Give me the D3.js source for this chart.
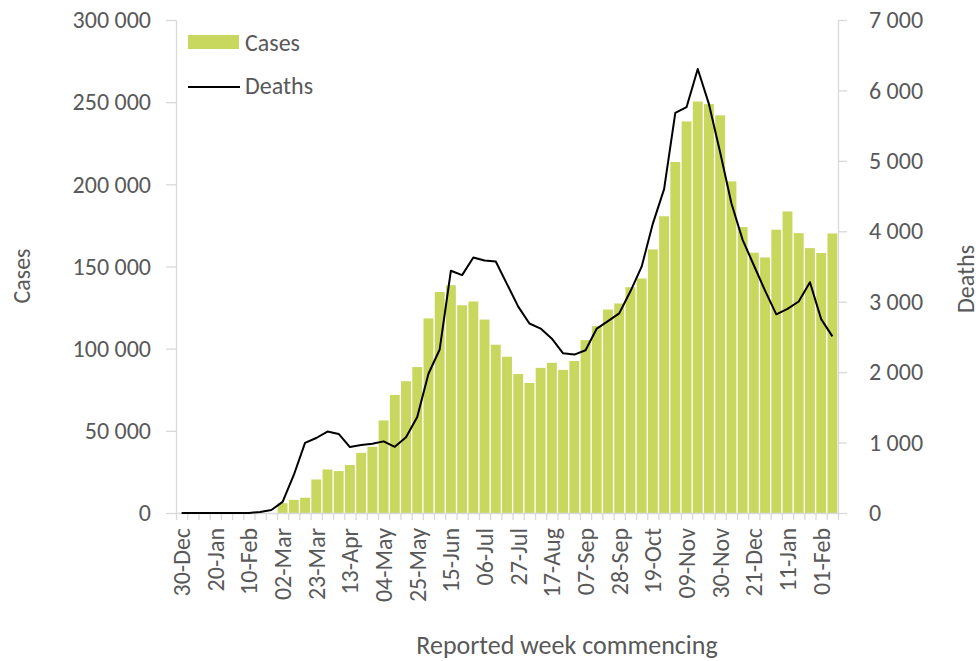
<!DOCTYPE html>
<meta charset="utf-8">
<title>Weekly cases and deaths</title>
<style>
    body {
        margin: 0;
        background: #fff;
    }

    text {
        font-family: Carlito, Calibri, Lato, sans-serif;
        fill: #595959;
    }

    .axis path,
    .axis line {
        stroke: #d9d9d9;
        stroke-width: 1.3px;
    }

    .deaths {
        fill: none;
        stroke: #000;
        stroke-width: 2px;
        stroke-linejoin: round;
    }
</style>

<body>
    <div id="chart"></div>
    <script src="https://cdnjs.cloudflare.com/ajax/libs/d3/7.8.5/d3.min.js"></script>
    <script>

        // week commencing labels
        var weeks = ["30-Dec", "06-Jan", "13-Jan", "20-Jan", "27-Jan", "03-Feb", "10-Feb", "17-Feb", "24-Feb",
            "02-Mar", "09-Mar", "16-Mar", "23-Mar", "30-Mar", "06-Apr", "13-Apr", "20-Apr", "27-Apr",
            "04-May", "11-May", "18-May", "25-May", "01-Jun", "08-Jun", "15-Jun", "22-Jun", "29-Jun",
            "06-Jul", "13-Jul", "20-Jul", "27-Jul", "03-Aug", "10-Aug", "17-Aug", "24-Aug", "31-Aug",
            "07-Sep", "14-Sep", "21-Sep", "28-Sep", "05-Oct", "12-Oct", "19-Oct", "26-Oct", "02-Nov",
            "09-Nov", "16-Nov", "23-Nov", "30-Nov", "07-Dec", "14-Dec", "21-Dec", "28-Dec", "04-Jan",
            "11-Jan", "18-Jan", "25-Jan", "01-Feb", "08-Feb"];

        // the labels shown on the x axis
        var shownWeeks = ["30-Dec", "20-Jan", "10-Feb", "02-Mar", "23-Mar", "13-Apr", "04-May", "25-May",
            "15-Jun", "06-Jul", "27-Jul", "17-Aug", "07-Sep", "28-Sep", "19-Oct", "09-Nov", "30-Nov",
            "21-Dec", "11-Jan", "01-Feb"];

        var cases = [0, 0, 0, 0, 0, 0, 0, 0, 0,
            6000, 8000, 9300, 20400, 26500, 25500, 29200, 36600, 40300,
            56300, 71800, 80200, 88800, 118400, 134500, 138600, 126400, 128700,
            117700, 102400, 95100, 84600, 79100, 88300, 91400, 87100, 92500,
            105200, 113700, 123800, 127500, 137400, 142700, 160400, 180600, 213600,
            238300, 250400, 248800, 242000, 201800, 174000, 158400, 155500, 172400,
            183500, 170300, 161200, 158200, 170100];

        var deaths = [0, 0, 0, 0, 0, 0, 0, 15, 43,
            158, 540, 995, 1065, 1156, 1123, 936, 964, 984,
            1017, 940, 1075, 1363, 1977, 2322, 3440, 3378, 3628,
            3585, 3570, 3250, 2931, 2691, 2619, 2475, 2268, 2249,
            2311, 2619, 2725, 2835, 3148, 3498, 4109, 4599, 5680,
            5762, 6305, 5805, 5118, 4397, 3878, 3518, 3157, 2821,
            2898, 3003, 3277, 2753, 2508];

        var casesTicks = [0, 50000, 100000, 150000, 200000, 250000, 300000];
        var deathsTicks = [0, 1000, 2000, 3000, 4000, 5000, 6000, 7000];

        var width = 980, height = 661;
        var plot = { left: 176, right: 838, top: 20, bottom: 513 };

        var svg = d3.select("#chart").append("svg")
            .attr("width", width)
            .attr("height", height);

        // scales
        var x = d3.scaleBand().domain(weeks).range([plot.left, plot.right])
            .paddingInner(0.12).paddingOuter(0.06);
        var xSlots = d3.scaleLinear().domain([0, weeks.length]).range([plot.left, plot.right]);
        var yCases = d3.scaleLinear().domain([0, 300000]).range([plot.bottom, plot.top]);
        var yDeaths = d3.scaleLinear().domain([0, 7000]).range([plot.bottom, plot.top]);

        var spaced = function (d) { return d3.format(",")(d).replace(/,/g, " "); };

        // bars
        svg.append("g").selectAll("rect")
            .data(cases)
            .enter().append("rect")
            .attr("x", function (d, i) { return x(weeks[i]); })
            .attr("width", x.bandwidth())
            .attr("y", function (d) { return yCases(d); })
            .attr("height", function (d) { return plot.bottom - yCases(d); })
            .attr("fill", "#c8d75e");

        // left axis
        var gl = svg.append("g")
            .attr("class", "axis")
            .attr("transform", "translate(" + plot.left + ",0)")
            .call(d3.axisLeft(yCases).tickValues(casesTicks).tickFormat(spaced)
                .tickSize(10).tickSizeOuter(0).tickPadding(15));
        gl.selectAll("text").attr("font-size", "24px").attr("fill", "#595959");

        // right axis
        var gr = svg.append("g")
            .attr("class", "axis")
            .attr("transform", "translate(" + plot.right + ",0)")
            .call(d3.axisRight(yDeaths).tickValues(deathsTicks).tickFormat(spaced)
                .tickSize(9).tickSizeOuter(0).tickPadding(22));
        gr.selectAll("text").attr("font-size", "24px").attr("fill", "#595959");

        // x axis minor ticks at slot edges
        svg.append("g")
            .attr("class", "axis")
            .attr("transform", "translate(0," + plot.bottom + ")")
            .call(d3.axisBottom(xSlots).tickValues(d3.range(weeks.length + 1))
                .tickFormat("").tickSize(7).tickSizeOuter(0));

        // x axis labels
        var gx = svg.append("g")
            .attr("transform", "translate(0," + plot.bottom + ")")
            .call(d3.axisBottom(x).tickValues(shownWeeks).tickSize(0).tickPadding(0));
        gx.select(".domain").remove();
        gx.selectAll("text")
            .attr("font-size", "24px")
            .attr("fill", "#595959")
            .attr("transform", "rotate(-90)")
            .attr("x", -15)
            .attr("y", 0)
            .attr("dy", "0.35em")
            .style("text-anchor", "end");

        // deaths line
        var line = d3.line()
            .x(function (d, i) { return x(weeks[i]) + x.bandwidth() / 2; })
            .y(function (d) { return yDeaths(d); });

        svg.append("path")
            .datum(deaths)
            .attr("class", "deaths")
            .attr("d", line);

        // axis titles
        svg.append("text")
            .attr("transform", "translate(30,276) rotate(-90)")
            .attr("text-anchor", "middle")
            .attr("font-size", "24px")
            .text("Cases");

        svg.append("text")
            .attr("transform", "translate(974,279) rotate(-90)")
            .attr("text-anchor", "middle")
            .attr("font-size", "24px")
            .text("Deaths");

        svg.append("text")
            .attr("x", 567)
            .attr("y", 654)
            .attr("text-anchor", "middle")
            .attr("font-size", "26px")
            .text("Reported week commencing");

        // legend
        var legend = svg.append("g");
        legend.append("rect")
            .attr("x", 188).attr("y", 35)
            .attr("width", 51).attr("height", 14)
            .attr("fill", "#c8d75e");
        legend.append("text")
            .attr("x", 245).attr("y", 51)
            .attr("font-size", "24px")
            .text("Cases");
        legend.append("line")
            .attr("x1", 188).attr("x2", 240)
            .attr("y1", 87).attr("y2", 87)
            .attr("stroke", "#000").attr("stroke-width", 2);
        legend.append("text")
            .attr("x", 245).attr("y", 94)
            .attr("font-size", "24px")
            .text("Deaths");

    </script>
</body>
